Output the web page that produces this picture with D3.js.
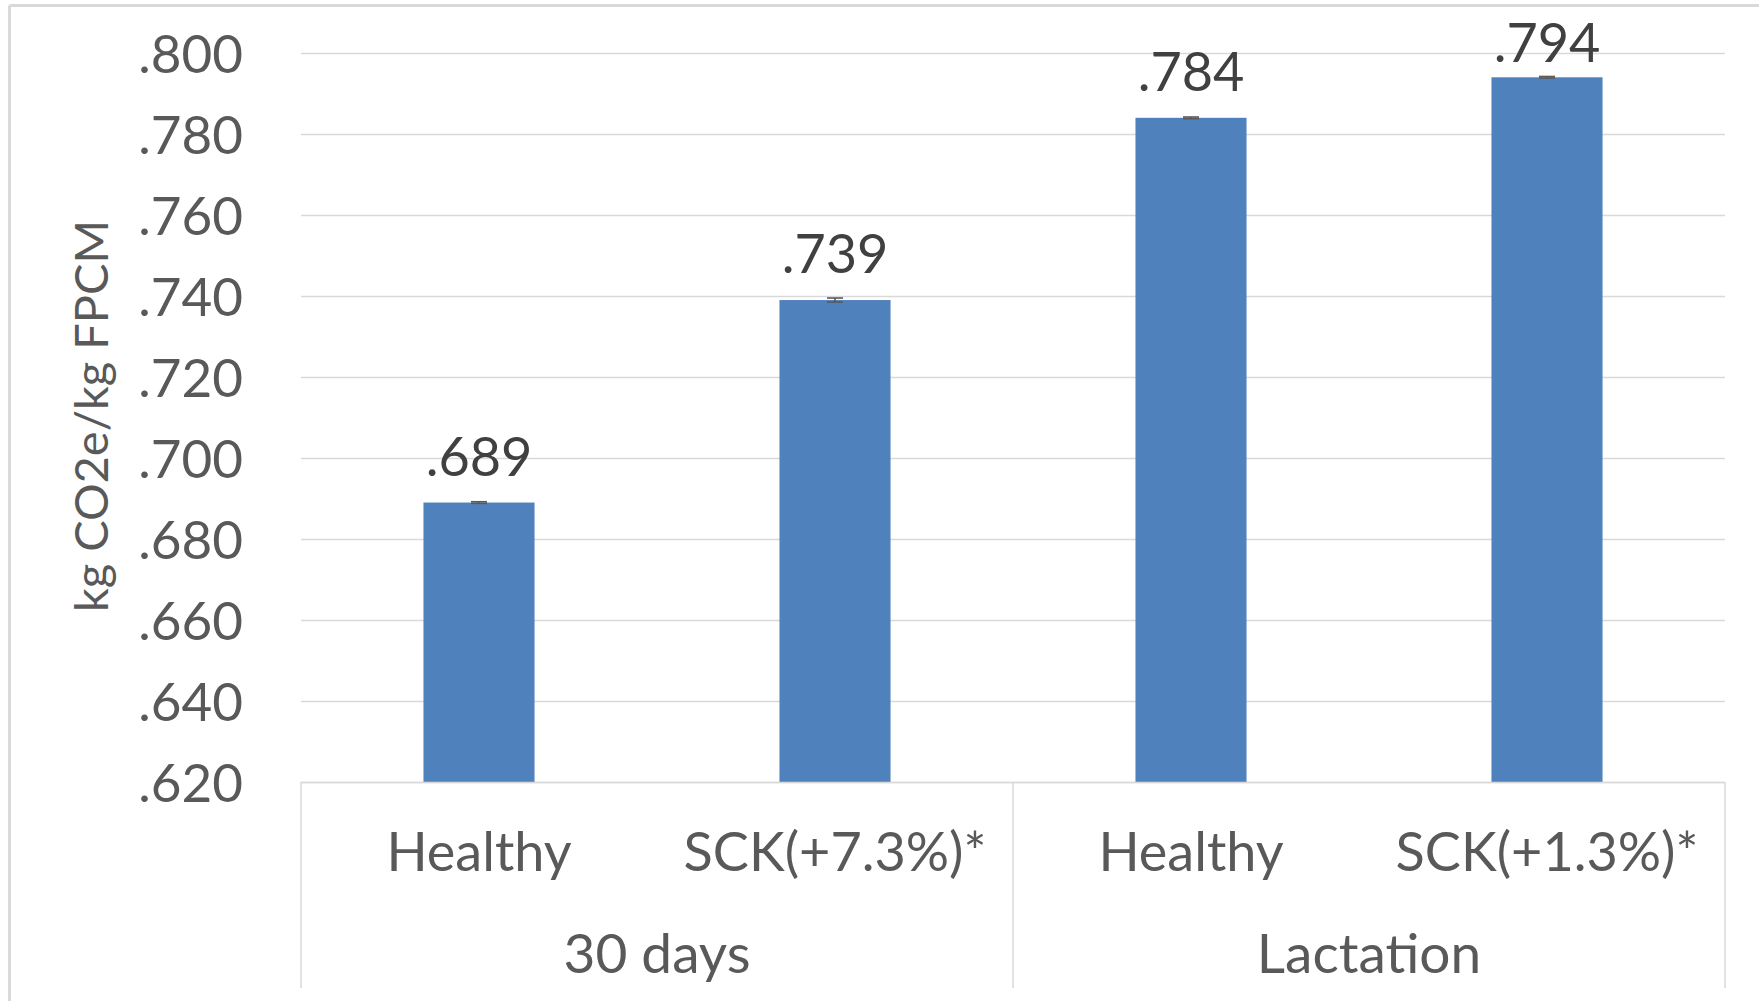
<!DOCTYPE html>
<html>
<head>
<meta charset="utf-8">
<script src="https://cdn.jsdelivr.net/npm/d3@7"></script>
<style>
  html, body { margin: 0; padding: 0; background: #fff; }
  svg { display: block; }
  text { font-family: Lato, "Open Sans", sans-serif; }
</style>
</head>
<body>
<svg id="chart" width="1759" height="1001"></svg>
<script>
// Emission intensity per treatment
const groups = ["30 days", "Lactation"];
const categories = ["Healthy", "SCK(+7.3%)*", "Healthy", "SCK(+1.3%)*"];
const values = [0.689, 0.739, 0.784, 0.794];
const errors = [0.0002, 0.0005, 0.0002, 0.0002];
const valueLabels = [".689", ".739", ".784", ".794"];
const yTicks = [0.62, 0.64, 0.66, 0.68, 0.70, 0.72, 0.74, 0.76, 0.78, 0.80];
const yTitle = "kg CO2e/kg FPCM";

const svg = d3.select("#chart");
const W = 1759, H = 1001;
const plot = { left: 301, right: 1725, top: 53, bottom: 782 };
const catBottom = 988;

const gridColor = "#d9d9d9";
const textColor = "#595959";
const barColor = "#4f81bd";

// Outer chart frame
svg.append("line").attr("x1", 9.5).attr("x2", 9.5).attr("y1", 5.5).attr("y2", H)
  .attr("stroke", gridColor).attr("stroke-width", 3);
svg.append("line").attr("x1", 9.5).attr("x2", W).attr("y1", 5.5).attr("y2", 5.5)
  .attr("stroke", gridColor).attr("stroke-width", 3);

const x = d3.scaleBand()
  .domain(d3.range(categories.length))
  .range([plot.left, plot.right])
  .paddingInner(0.688)
  .paddingOuter(0.344);

const y = d3.scaleLinear()
  .domain([0.62, 0.80])
  .range([plot.bottom, plot.top]);

// Horizontal gridlines
svg.append("g")
  .selectAll("line")
  .data(yTicks)
  .join("line")
  .attr("x1", plot.left).attr("x2", plot.right)
  .attr("y1", d => Math.round(y(d)) + 0.5).attr("y2", d => Math.round(y(d)) + 0.5)
  .attr("stroke", gridColor).attr("stroke-width", 1.5);

// Y axis tick labels
const yAxis = d3.axisLeft(y)
  .tickValues(yTicks)
  .tickSize(0)
  .tickPadding(0)
  .tickFormat(d => d3.format(".3f")(d).replace(/^0/, ""));
const yg = svg.append("g")
  .attr("transform", `translate(243,0)`)
  .call(yAxis);
yg.select(".domain").remove();
yg.selectAll("text")
  .attr("fill", textColor)
  .style("font-size", "53px")
  .attr("dy", "0.36em");

// Y axis title
svg.append("text")
  .attr("transform", "translate(108,416) rotate(-90)")
  .attr("text-anchor", "middle")
  .attr("fill", textColor)
  .style("font-size", "47px")
  .text(yTitle);

// Bars
svg.append("g")
  .selectAll("rect")
  .data(values)
  .join("rect")
  .attr("x", (d, i) => x(i))
  .attr("width", x.bandwidth())
  .attr("y", d => y(d))
  .attr("height", d => y(0.62) - y(d))
  .attr("fill", barColor);

// Error bars
const eg = svg.append("g").attr("stroke", "#595959").attr("stroke-width", 1.6);
values.forEach((v, i) => {
  const cx = x(i) + x.bandwidth() / 2;
  const y1 = y(v + errors[i]), y2 = y(v - errors[i]);
  eg.append("line").attr("x1", cx).attr("x2", cx).attr("y1", y1).attr("y2", y2);
  eg.append("line").attr("x1", cx - 8).attr("x2", cx + 8).attr("y1", y1).attr("y2", y1);
  eg.append("line").attr("x1", cx - 8).attr("x2", cx + 8).attr("y1", y2).attr("y2", y2);
});

// Value labels above bars (kept inside the plot frame)
svg.append("g")
  .selectAll("text")
  .data(values)
  .join("text")
  .attr("x", (d, i) => x(i) + x.bandwidth() / 2)
  .attr("y", d => Math.max(y(d) - 27, 62))
  .attr("text-anchor", "middle")
  .attr("fill", "#404040")
  .style("font-size", "54px")
  .text((d, i) => valueLabels[i]);

// Category axis box
const catG = svg.append("g").attr("stroke", gridColor).attr("stroke-width", 1.5);
catG.append("line").attr("x1", plot.left).attr("x2", plot.right)
  .attr("y1", plot.bottom + 0.5).attr("y2", plot.bottom + 0.5);
const groupEdges = [plot.left, (plot.left + plot.right) / 2, plot.right];
groupEdges.forEach(gx => {
  catG.append("line").attr("x1", gx).attr("x2", gx)
    .attr("y1", plot.bottom).attr("y2", catBottom);
});

// Category labels
svg.append("g")
  .selectAll("text")
  .data(categories)
  .join("text")
  .attr("x", (d, i) => x(i) + x.bandwidth() / 2)
  .attr("y", 871)
  .attr("text-anchor", "middle")
  .attr("fill", textColor)
  .style("font-size", "54px")
  .text(d => d);

// Group labels
svg.append("g")
  .selectAll("text")
  .data(groups)
  .join("text")
  .attr("x", (d, gi) => (groupEdges[gi] + groupEdges[gi + 1]) / 2)
  .attr("y", 973)
  .attr("text-anchor", "middle")
  .attr("fill", textColor)
  .style("font-size", "55px")
  .text(d => d);
</script>
</body>
</html>
